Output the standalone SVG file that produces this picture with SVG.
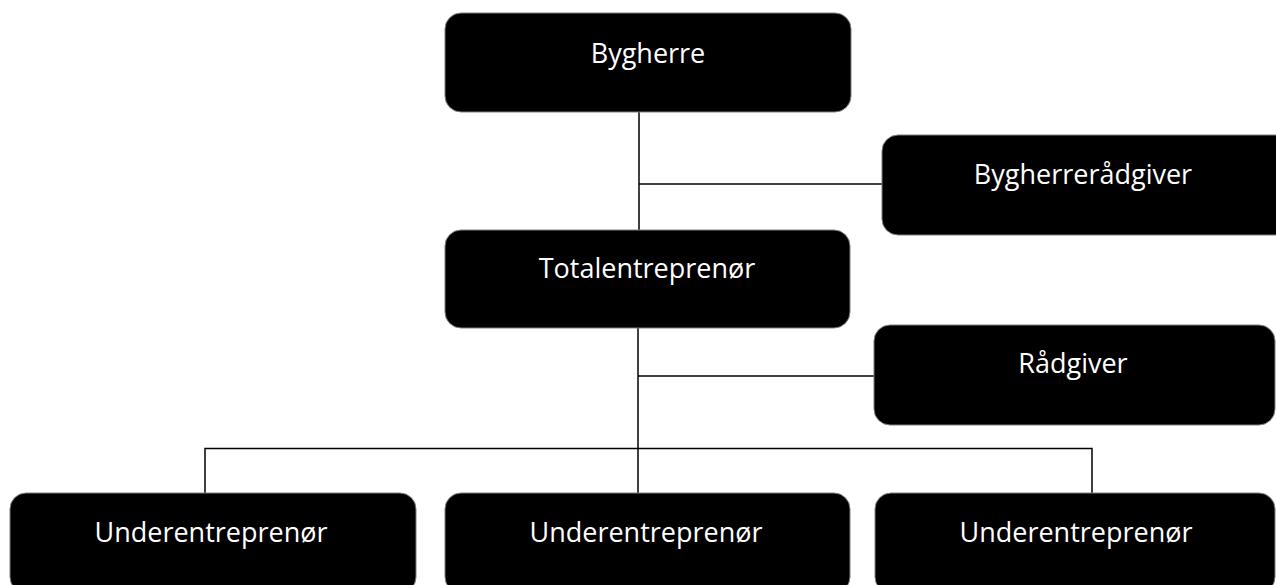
<svg xmlns="http://www.w3.org/2000/svg" width="1276" height="585" viewBox="0 0 1276 585">
  <style>
    .box { fill: #000; stroke: #7f7f7f; stroke-width: 1; }
    .label { fill: #fff; font-family: "Open Sans", "Noto Sans", "DejaVu Sans", sans-serif; font-size: 27px; text-anchor: middle; }
    .link { stroke: #000; stroke-width: 1.5; fill: none; }
  </style>
  <rect width="1276" height="585" fill="#fff"/>

  <!-- connectors -->
  <g id="connectors">
    <line class="link" x1="639" y1="112" x2="639" y2="230"/>
    <line class="link" x1="639" y1="184" x2="882" y2="184"/>
    <line class="link" x1="638" y1="328" x2="638" y2="493"/>
    <line class="link" x1="638" y1="376" x2="875" y2="376"/>
    <polyline class="link" points="205,493 205,448.5 1092,448.5 1092,493"/>
  </g>

  <g id="bygherre">
    <rect class="box" x="445" y="13" width="406" height="99" rx="16"/>
    <text class="label" x="648" y="63">Bygherre</text>
  </g>

  <g id="bygherreraadgiver">
    <rect class="box" x="882" y="135" width="410" height="100" rx="16"/>
    <text class="label" x="1083" y="184">Bygherrerådgiver</text>
  </g>

  <g id="totalentreprenoer">
    <rect class="box" x="445" y="230" width="405" height="98" rx="16"/>
    <text class="label" x="647" y="278">Totalentreprenør</text>
  </g>

  <g id="raadgiver">
    <rect class="box" x="874" y="325" width="401" height="100" rx="16"/>
    <text class="label" x="1073" y="373">Rådgiver</text>
  </g>

  <g id="underentreprenoer-1">
    <rect class="box" x="10" y="493" width="406" height="100" rx="16"/>
    <text class="label" x="211" y="542">Underentreprenør</text>
  </g>

  <g id="underentreprenoer-2">
    <rect class="box" x="445" y="493" width="405" height="100" rx="16"/>
    <text class="label" x="646" y="542">Underentreprenør</text>
  </g>

  <g id="underentreprenoer-3">
    <rect class="box" x="875" y="493" width="400" height="100" rx="16"/>
    <text class="label" x="1076" y="542">Underentreprenør</text>
  </g>
</svg>
